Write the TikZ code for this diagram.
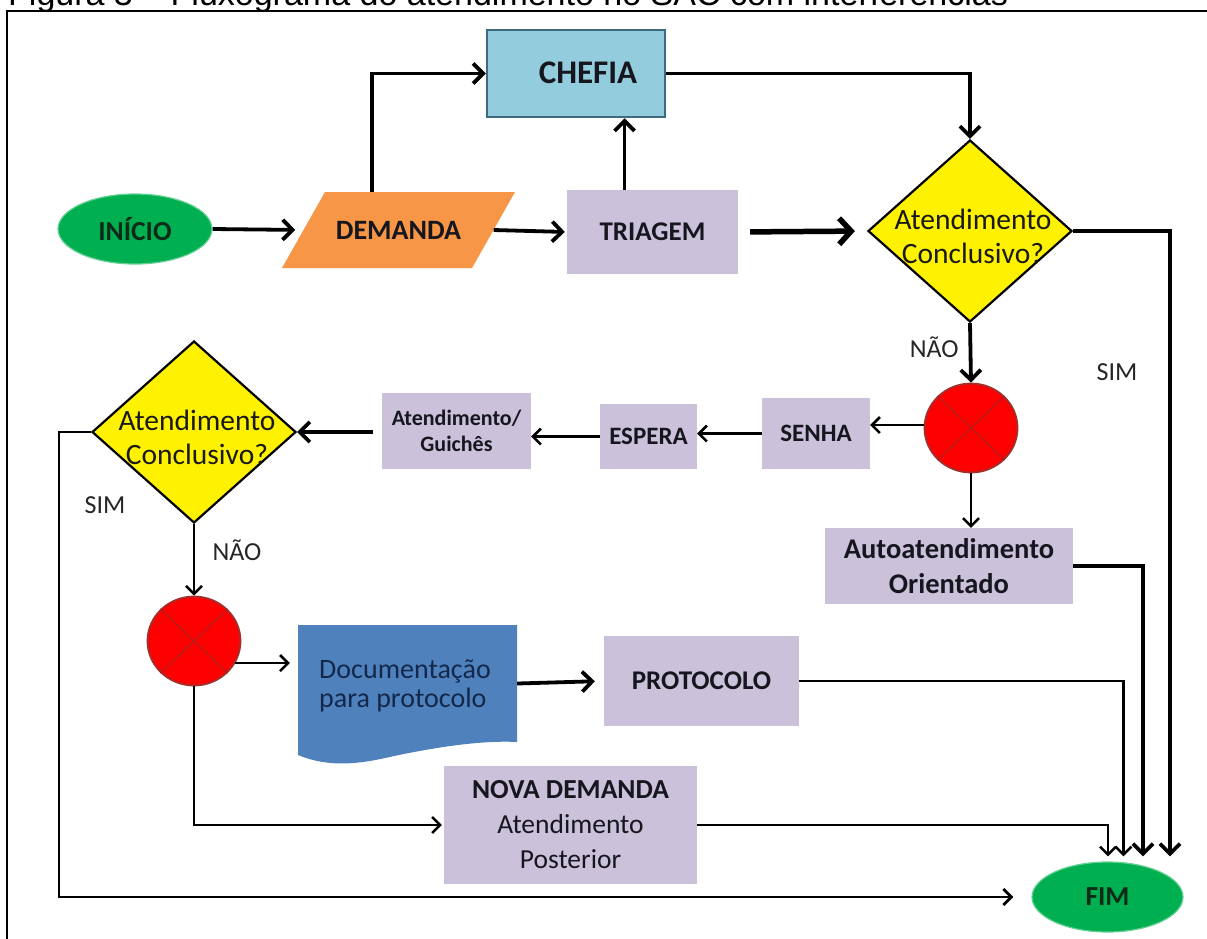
\documentclass[tikz,border=0pt]{standalone}
\usepackage{fontspec}
\setmainfont{Carlito}
\newfontfamily\arialf{Liberation Sans}
\usetikzlibrary{arrows.meta,shapes.geometric,calc}
\definecolor{lav}{HTML}{CCC1DA}
\definecolor{chefbl}{HTML}{93CDDD}
\definecolor{chefbd}{HTML}{3E6A7E}
\definecolor{grn}{HTML}{00B050}
\definecolor{orng}{HTML}{F79646}
\definecolor{docbl}{HTML}{4F81BD}
\definecolor{doctx}{HTML}{13284A}
\definecolor{txt}{HTML}{16161F}
\definecolor{gtx}{HTML}{102A18}
\definecolor{redbd}{HTML}{A0302C}
\definecolor{redx}{HTML}{A82020}
\begin{document}
\begin{tikzpicture}[x=1pt,y=-1pt,
  lbl/.style={font=\bfseries\fontsize{27}{31}\selectfont, text=txt, align=center, inner sep=0},
  box/.style={lbl, fill=lav, draw=none},
  dtext/.style={font=\fontsize{29.5}{34}\selectfont, text=black!90, align=center, inner sep=0},
  ntext/.style={font=\fontsize{26}{30}\selectfont, text=black!85, inner sep=0},
  decis/.style={diamond, draw=black, line width=2.2pt, fill=yellow, minimum width=204pt, minimum height=182pt, inner sep=0},
  oval/.style={ellipse, fill=grn, draw=grn!60!white, line width=1.2pt, minimum width=154pt, minimum height=70pt, inner sep=0, font=\bfseries\fontsize{27.5}{30}\selectfont, text=gtx},
  junct/.style={ellipse, fill=red, draw=redbd, line width=1.8pt, minimum width=93pt, minimum height=89pt, inner sep=0},
  con/.style={line width=2.5pt, -{Straight Barb[length=8pt,width=16pt]}},
  conb/.style={line width=3.8pt, -{Straight Barb[length=10pt,width=20pt]}},
  conx/.style={line width=5.5pt, -{Straight Barb[length=12pt,width=26pt]}}
]
\clip (0,0) rectangle (1207,938);
\fill[white] (0,0) rectangle (1207,938);

% title (cut off at top, as in the source)
\node[anchor=base west, font=\arialf\fontsize{34}{38}\selectfont, inner sep=0] (title) at (8,5) {Figura 3 – Fluxograma do atendimento no SAC com interferências};
% frame
\draw[line width=2pt] (7,940) -- (7,11) -- (1210,11);

% nodes
\node[oval] (ini) at (135,229) {INÍCIO};
\fill[orng] (325,192) -- (515,192) -- (472,268) -- (282,268) -- cycle;
\node[lbl, minimum width=190pt, minimum height=76pt, font=\bfseries\fontsize{28}{31}\selectfont] (dem) at (398.5,230) {DEMANDA};
\node[box, minimum width=171pt, minimum height=84pt] (tri) at (652.5,232) {TRIAGEM};
\node[box, fill=chefbl, draw=chefbd, line width=2.5pt, minimum width=178pt, minimum height=87pt] (chef) at (576,73.5) {};
\node[lbl, font=\bfseries\fontsize{33}{36}\selectfont] (cheft) at (588,73) {CHEFIA};
\node[decis] (d1) at (970,231) {};
\node[dtext] (d1t) at (973,236) {Atendimento\\Conclusivo?};
\node[junct] (c1) at (971,428) {};
\draw[redx, line width=1.1pt] (c1.north west) -- (c1.south east) (c1.north east) -- (c1.south west);
\node[box, minimum width=108pt, minimum height=71pt, font=\bfseries\fontsize{25}{29}\selectfont] (senha) at (816,433.5) {SENHA};
\node[box, minimum width=97pt, minimum height=65pt, font=\bfseries\fontsize{25}{29}\selectfont] (esp) at (648.5,436.5) {ESPERA};
\node[box, minimum width=149pt, minimum height=76pt, font=\bfseries\fontsize{22}{26}\selectfont] (ag) at (456.5,431) {Atendimento/\\Guichês};
\node[decis] (d2) at (194,432) {};
\node[dtext] (d2t) at (197,437) {Atendimento\\Conclusivo?};
\node[box, minimum width=248pt, minimum height=76pt, font=\bfseries\fontsize{28.5}{35}\selectfont] (auto) at (949,566) {Autoatendimento\\Orientado};
\node[junct] (c2) at (194,641) {};
\draw[redx, line width=1.1pt] (c2.north west) -- (c2.south east) (c2.north east) -- (c2.south west);
\fill[docbl] (298,625) -- (517,625) -- (517,742) .. controls (480,740) and (430,748) .. (385,758) .. controls (345,767) and (320,764) .. (298,755) -- cycle;
\node[inner sep=0, minimum width=219pt, minimum height=117pt] (doc) at (407.5,683.5) {};
\node[font=\fontsize{28}{29}\selectfont, text=doctx, align=left, inner sep=0] (doct) at (405,686) {Documentação\\para protocolo};
\node[box, minimum width=195pt, minimum height=90pt] (prot) at (701.5,681) {PROTOCOLO};
\node[box, minimum width=253pt, minimum height=118pt, font=\fontsize{27.5}{35}\selectfont] (nova) at (570.5,825) {\textbf{NOVA DEMANDA}\\Atendimento\\Posterior};
\node[oval, minimum width=151pt] (fim) at (1107.5,897) {FIM};

% connectors
\draw[conb, shorten >=8pt] (ini.east) -- (dem.west);
\draw[conb] ([xshift=-26.5pt]dem.north) |- (chef.west);
\draw[conb, shorten >=2pt] (dem.east) -- (tri.west);
\draw[conb] ([xshift=-28pt]tri.north) -- ([xshift=-28pt]tri.north |- chef.south);
\draw[conb] (chef.east) -| (d1.north);
\draw[conx, shorten <=12pt, shorten >=12pt] (tri.east) -- (d1.west);
\draw[conb] (d1.east) -| ($(fim.north)+(62.5,-5)$);
\draw[conb] (d1.south) -- node[ntext, pos=0.4, left=10pt] {NÃO} (c1.north);
\node[ntext] (sim1) at (1117,372) {SIM};
\draw[con] ([yshift=3pt]c1.west) -- ([yshift=3pt]c1.west -| senha.east);
\draw[con] (senha.west) -- (senha.west -| esp.east);
\draw[con] (esp.west) -- (esp.west -| ag.east);
\draw[conb, shorten <=9pt] (ag.west |- d2.east) -- (d2.east);
\draw[con] (c1.south) -- (c1.south |- auto.north);
\draw[conb] (auto.east) -| ($(fim.north)+(35.5,-5)$);
\draw[line width=2.8pt, -{Straight Barb[length=8pt,width=16pt]}, shorten >=18pt] (d2.west) -- ++(-32,0) |- (fim.west);
\node[ntext] (sim2) at (105,505) {SIM};
\draw[con] (d2.south) -- (c2.north);
\node[ntext] (nao2) at (237,550) {NÃO};
\draw[con, shorten >=8pt] (c2.-28) -- (c2.-28 -| doc.west);
\draw[conb, shorten >=9pt] (doc.east) -- (prot.west);
\draw[con] (prot.east) -| ($(fim.north)+(16,-5)$);
\draw[con, shorten >=2pt] (c2.south) |- (nova.west);
\draw[con] (nova.east) -| ($(fim.north)+(0.5,-5)$);
\end{tikzpicture}
\end{document}
